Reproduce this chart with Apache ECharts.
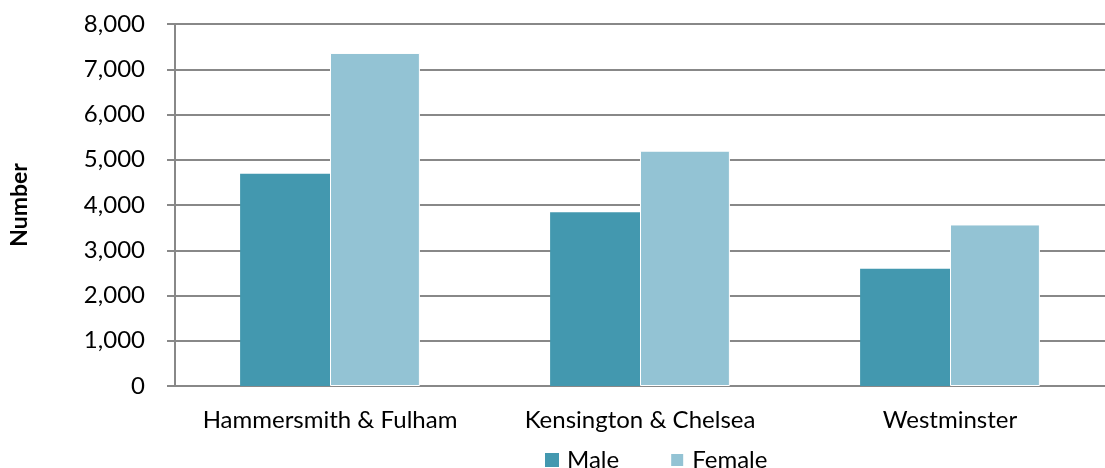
<!DOCTYPE html>
<html>
<head>
<meta charset="utf-8">
<script src="https://cdn.jsdelivr.net/npm/echarts@6/dist/echarts.min.js"></script>
<style>
  html, body { margin: 0; padding: 0; background: #fff; }
  #chart { width: 1105px; height: 468px; }
</style>
</head>
<body>
<div id="chart"></div>
<script>
const categories = ['Hammersmith & Fulham', 'Kensington & Chelsea', 'Westminster']
const maleValues = [4690, 3840, 2590]
const femaleValues = [7360, 5200, 3570]

const font = 'Lato, "Open Sans", sans-serif'

const chart = echarts.init(document.getElementById('chart'))
chart.setOption({
  animation: false,
  grid: {
    left: 175,
    right: 0,
    top: 24,
    bottom: 82,
    containLabel: false,
    outerBoundsMode: 'none'
  },
  legend: {
    bottom: -9,
    left: 540,
    itemWidth: 14,
    itemHeight: 14,
    itemGap: 50,
    icon: 'rect',
    textStyle: { fontFamily: font, fontSize: 24, color: '#000', padding: [0, 0, 0, 3] },
    data: ['Male', 'Female']
  },
  xAxis: {
    type: 'category',
    data: categories,
    axisLine: { lineStyle: { color: '#888', width: 2 } },
    axisTick: { show: false },
    axisLabel: { fontFamily: font, fontSize: 24, color: '#000', margin: 22, interval: 0 }
  },
  yAxis: {
    type: 'value',
    min: 0,
    max: 8000,
    interval: 1000,
    name: 'Number',
    nameLocation: 'middle',
    nameGap: 144,
    nameTextStyle: { fontFamily: font, fontSize: 23, fontWeight: 'bold', color: '#000' },
    axisLine: { show: true, lineStyle: { color: '#888', width: 2 } },
    axisTick: { show: true, length: 8, lineStyle: { color: '#888', width: 2 } },
    splitLine: { lineStyle: { color: '#888', width: 2 } },
    axisLabel: {
      fontFamily: font,
      fontSize: 24,
      color: '#000',
      margin: 30,
      formatter: (v) => v.toLocaleString('en-US')
    }
  },
  series: [
    {
      name: 'Male',
      type: 'bar',
      data: maleValues,
      barGap: '0%',
      barCategoryGap: '42%',
      itemStyle: { color: '#4398AF' }
    },
    {
      name: 'Female',
      type: 'bar',
      data: femaleValues,
      itemStyle: { color: '#93C3D4', borderColor: '#fff', borderWidth: 1 }
    }
  ]
})
</script>
</body>
</html>
